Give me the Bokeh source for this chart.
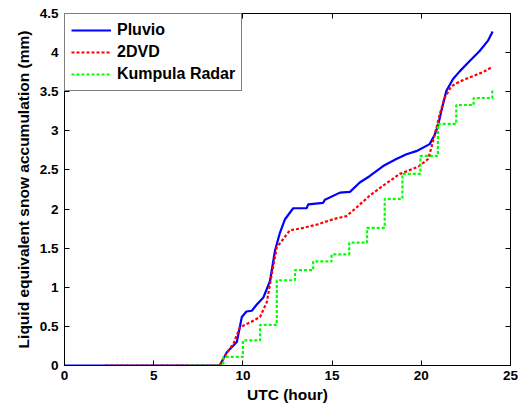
from bokeh.plotting import figure
from bokeh.models import FixedTicker, LinearAxis, Range1d, Legend, LegendItem
from bokeh.embed import file_html
from bokeh.resources import INLINE

# Pluvio (solid blue)
pluvio_hour = [0, 8.7, 9.1, 9.66, 9.94, 10.2, 10.5, 10.78, 11.15, 11.52, 11.8, 12.08, 12.36,
               12.82, 13.57, 13.66, 14.5, 14.6, 15.44, 16.0, 16.55, 17.1, 17.86, 18.6, 19.17,
               19.72, 20.47, 20.75, 20.93, 21.12, 21.4, 21.77, 22.15, 22.7, 23.27, 23.73, 24.0]
pluvio_mm = [0, 0, 0.17, 0.30, 0.62, 0.69, 0.70, 0.78, 0.87, 1.08, 1.47, 1.70, 1.87,
             2.01, 2.01, 2.06, 2.08, 2.12, 2.21, 2.22, 2.34, 2.42, 2.55, 2.64, 2.70,
             2.74, 2.83, 2.95, 3.06, 3.25, 3.51, 3.66, 3.76, 3.89, 4.02, 4.15, 4.27]

# 2DVD (red dotted)
dvd_hour = [2.3, 8.7, 9.0, 9.47, 9.84, 10.4, 10.96, 11.34, 11.62, 11.9, 12.17, 12.64, 13.2,
            14.13, 15.06, 15.8, 16.37, 17.1, 17.86, 18.8, 19.82, 20.38, 20.56, 20.75, 21.03,
            21.31, 21.68, 22.15, 22.9, 23.45, 24.0]
dvd_mm = [0, 0, 0.13, 0.28, 0.49, 0.55, 0.62, 0.81, 1.17, 1.51, 1.59, 1.73, 1.75,
          1.80, 1.87, 1.91, 2.02, 2.17, 2.30, 2.45, 2.54, 2.64, 2.78, 2.95, 3.21,
          3.42, 3.57, 3.63, 3.70, 3.75, 3.82]

# Kumpula Radar (green dotted, stepwise)
radar_hour = [7.0, 8.9, 10.0, 10.96, 11.9, 12.92, 13.94, 14.97, 15.96, 16.96, 17.95, 18.94,
              19.95, 20.93, 21.96, 22.93, 23.98, 24.0]
radar_mm = [0, 0.11, 0.32, 0.52, 1.09, 1.22, 1.33, 1.42, 1.57, 1.76, 2.13, 2.45,
            2.68, 3.09, 3.33, 3.42, 3.52, 3.52]

x_ticks = [0, 5, 10, 15, 20, 25]
y_ticks = [0, 0.5, 1, 1.5, 2, 2.5, 3, 3.5, 4, 4.5]

FONT = "Liberation Sans"

p = figure(width=522, height=408, output_backend="svg", toolbar_location=None,
           x_range=Range1d(0, 25), y_range=Range1d(0, 4.5),
           min_border_left=64, min_border_right=11, min_border_top=13, min_border_bottom=43,
           background_fill_color="white", border_fill_color="white")
p.frame_width = 446
p.frame_height = 352
p.grid.visible = False
p.outline_line_color = "black"
p.outline_line_width = 1

r1 = p.line(pluvio_hour, pluvio_mm, line_color="#0000ff", line_width=2.2)
r2 = p.line(dvd_hour, dvd_mm, line_color="#ff0000", line_width=2.2, line_dash="3 2")
r3 = p.step(radar_hour, radar_mm, mode="after", line_color="#00ff00", line_width=2.2,
            line_dash="3 2")

for ax, ticks in ((p.xaxis[0], x_ticks), (p.yaxis[0], y_ticks)):
    ax.ticker = FixedTicker(ticks=ticks)
    ax.major_tick_in = 5
    ax.major_tick_out = 0
    ax.minor_tick_line_color = None
    ax.axis_line_color = "black"
    ax.major_label_text_font = FONT
    ax.major_label_text_font_style = "bold"
    ax.major_label_text_font_size = "13.5px"
    ax.major_label_text_color = "black"
    ax.axis_label_text_font = FONT
    ax.axis_label_text_font_style = "bold"
    ax.axis_label_text_font_size = "15.5px"
    ax.axis_label_text_color = "black"

p.xaxis[0].axis_label = "UTC (hour)"
p.yaxis[0].axis_label = "Liquid equivalent snow accumulation (mm)"
p.xaxis[0].major_label_standoff = 5
p.yaxis[0].major_label_standoff = 6
p.xaxis[0].axis_label_standoff = 3
p.yaxis[0].axis_label_standoff = 5

for loc, ticks in (("right", y_ticks), ("above", x_ticks)):
    ax = LinearAxis(ticker=FixedTicker(ticks=ticks), major_tick_in=5, major_tick_out=0,
                    minor_tick_line_color=None, axis_line_color="black",
                    major_label_overrides={t: "" for t in ticks},
                    major_label_text_color=None,
                    major_label_text_font_size="1px", major_label_standoff=0)
    p.add_layout(ax, loc)

legend = Legend(items=[LegendItem(label="Pluvio", renderers=[r1]),
                       LegendItem(label="2DVD", renderers=[r2]),
                       LegendItem(label="Kumpula Radar", renderers=[r3])],
                location="top_left", margin=0, padding=6, spacing=2,
                glyph_width=40, glyph_height=20, label_height=20, label_standoff=6,
                label_text_font=FONT, label_text_font_style="bold",
                label_text_font_size="16px", label_text_color="black",
                border_line_color="black", border_line_width=1,
                background_fill_color="white", background_fill_alpha=1)
p.add_layout(legend)

open("out.html", "w").write(file_html(p, INLINE))
